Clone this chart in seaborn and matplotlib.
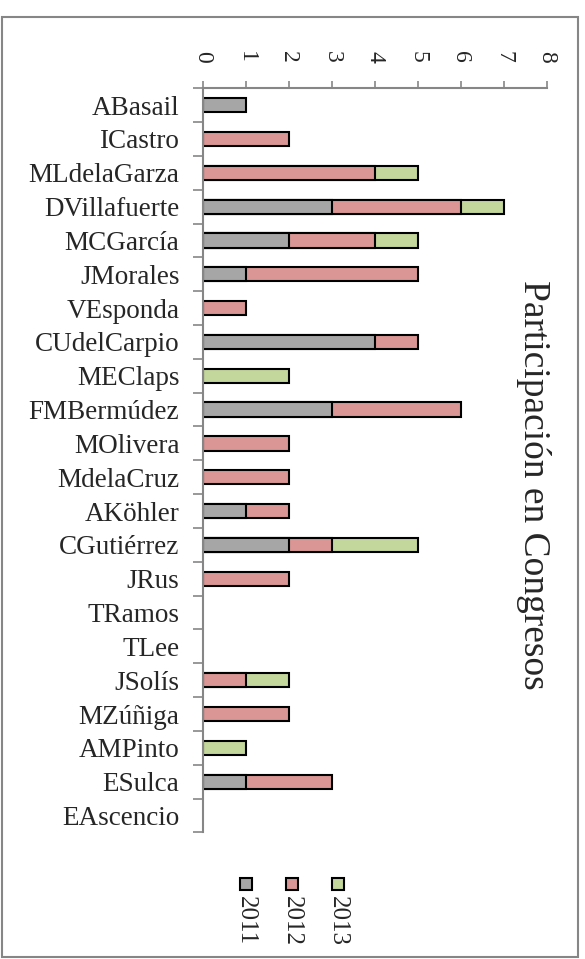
import numpy as np
import pandas as pd
import matplotlib
matplotlib.use("Agg")
import matplotlib.pyplot as plt
import seaborn as sns
from matplotlib.patches import Rectangle

sns.set_theme(style="white")
plt.rcParams['font.family'] = ['Liberation Serif', 'DejaVu Serif']

# Data
people = ['ABasail', 'ICastro', 'MLdelaGarza', 'DVillafuerte', 'MCGarcía', 'JMorales',
          'VEsponda', 'CUdelCarpio', 'MEClaps', 'FMBermúdez', 'MOlivera', 'MdelaCruz',
          'AKöhler', 'CGutiérrez', 'JRus', 'TRamos', 'TLee', 'JSolís', 'MZúñiga',
          'AMPinto', 'ESulca', 'EAscencio']
y2011 = [1, 0, 0, 3, 2, 1, 0, 4, 0, 3, 0, 0, 1, 2, 0, 0, 0, 0, 0, 0, 1, 0]
y2012 = [0, 2, 4, 3, 2, 4, 1, 1, 0, 3, 2, 2, 1, 1, 2, 0, 0, 1, 2, 0, 2, 0]
y2013 = [0, 0, 1, 1, 1, 0, 0, 0, 2, 0, 0, 0, 0, 2, 0, 0, 0, 1, 0, 1, 0, 0]
years = ['2011', '2012', '2013']
colors = ['#A6A6A6', '#D99694', '#C3D69B']

df = pd.DataFrame({'name': people, '2011': y2011, '2012': y2012, '2013': y2013})
# cumulative ends of each stacked segment; hide empty segments
df['end2011'] = df['2011'].where(df['2011'] > 0)
df['end2012'] = (df['2011'] + df['2012']).where(df['2012'] > 0)
df['end2013'] = (df['2011'] + df['2012'] + df['2013']).where(df['2013'] > 0)

fig = plt.figure(figsize=(5.85, 9.59), dpi=100)
ax = fig.add_axes([0.347, 0.132, 0.588, 0.776])

for col, c in zip(['end2013', 'end2012', 'end2011'], colors[::-1]):
    sns.barplot(data=df, x=col, y='name', order=people, color=c, width=0.42,
                edgecolor='black', linewidth=1.5, saturation=1, ax=ax, errorbar=None)

ax.set_xlim(0, 8)
ax.set_ylim(len(people) - 0.5, -0.5)
ax.set_xlabel('')
ax.set_ylabel('')
ax.set_xticks(range(0, 9))
ax.xaxis.tick_top()
ax.tick_params(axis='x', which='major', direction='out', length=5, width=1.2,
               color='#868686', labelsize=17, labelrotation=-90, pad=13,
               top=True, bottom=False, labeltop=True, labelbottom=False)
ax.set_yticks(np.arange(-0.5, len(people), 1), minor=True)
ax.tick_params(axis='y', which='minor', direction='out', length=7, width=1.2,
               color='#868686', left=True)
ax.tick_params(axis='y', which='major', length=0, labelsize=19.5, pad=17)
for s in ['right', 'bottom']:
    ax.spines[s].set_visible(False)
for s in ['left', 'top']:
    ax.spines[s].set_color('#868686')
    ax.spines[s].set_linewidth(1.5)
ax.grid(False)

# title (rotated as in the original)
fig.text(534 / 585, 1 - 485 / 959, 'Participación en Congresos', rotation=-90,
         fontsize=27, ha='center', va='center')

# legend, drawn vertically
for i, (yr, c) in enumerate(zip(years, colors)):
    xc = (246 + 46 * i) / 585
    fig.add_artist(Rectangle((xc - 6 / 585, 1 - 890 / 959), 12 / 585, 12 / 959,
                             transform=fig.transFigure, facecolor=c,
                             edgecolor='black', linewidth=1.5))
    fig.text(xc, 1 - 896 / 959, yr, rotation=-90, fontsize=18,
             ha='center', va='top')

# outer frame
fig.add_artist(Rectangle((2 / 585, 2 / 959), 576 / 585, 940 / 959,
                         transform=fig.transFigure, fill=False,
                         edgecolor='#868686', linewidth=1.5))

fig.savefig('out.png', dpi=100)
